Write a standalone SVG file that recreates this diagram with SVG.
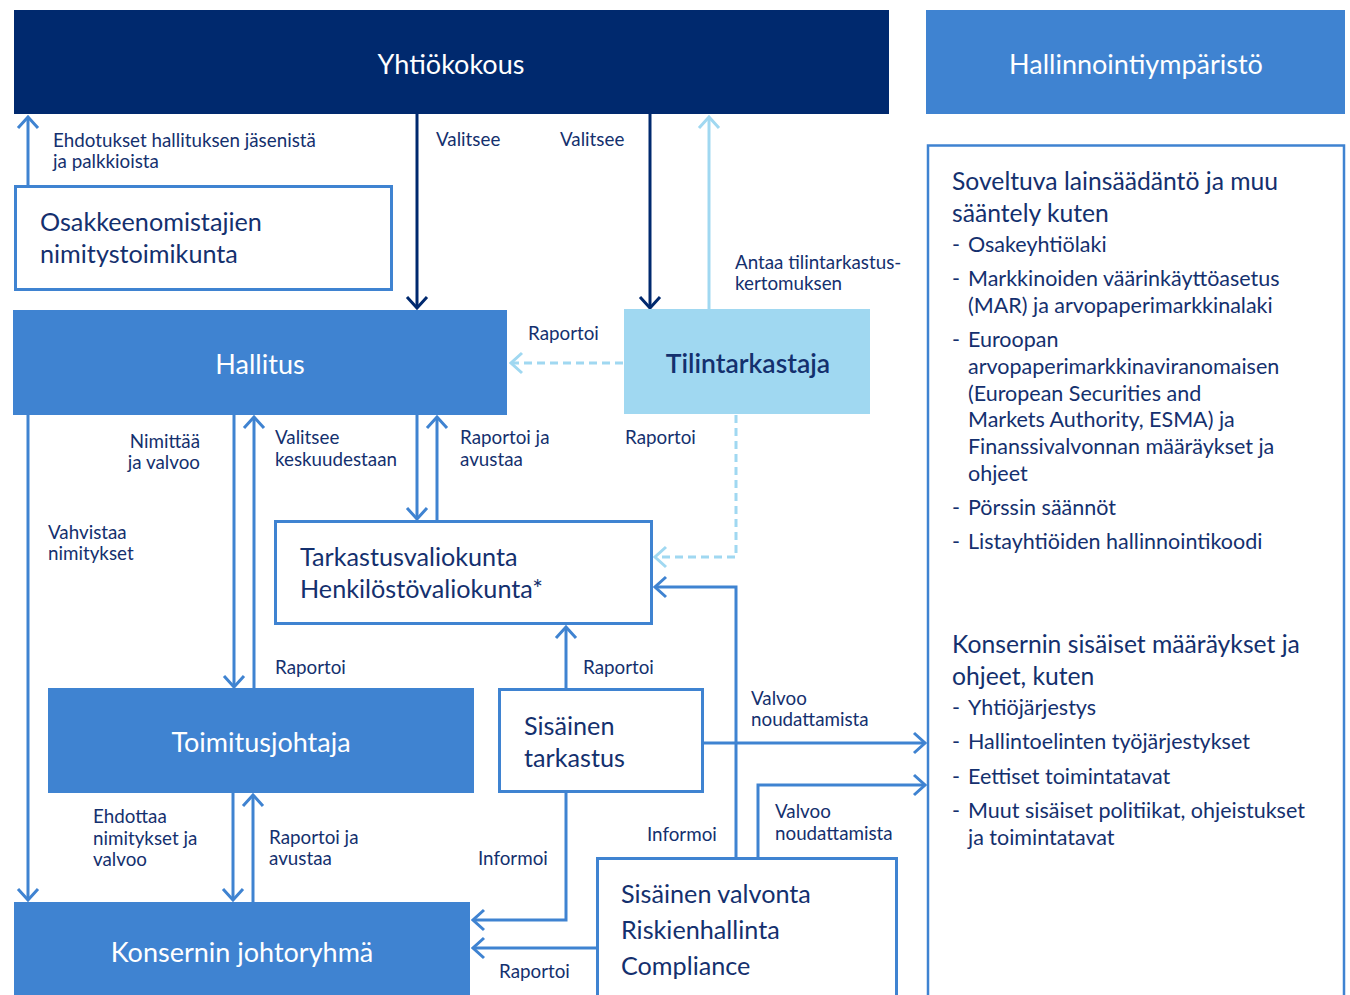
<svg xmlns="http://www.w3.org/2000/svg" width="1350" height="995" viewBox="0 0 1350 995">
<style>
text{font-family:Lato,"Noto Sans","Liberation Sans",sans-serif;fill:#14306e}
.lbl{font-size:18.8px}
.box{font-size:25.2px}
.wt{fill:#ffffff;font-size:27px;text-anchor:middle}
.h{font-size:24.7px}
.li{font-size:21.5px}
.navy{fill:#00296e}
.mid{fill:#3f83d1}
.out{fill:#ffffff;stroke:#3f83d1;stroke-width:3}
.c{fill:none;stroke:#3f83d1;stroke-width:3}
.cn{fill:none;stroke:#00296e;stroke-width:3}
.cl{fill:none;stroke:#a0d8f1;stroke-width:3}
.cd{fill:none;stroke:#a0d8f1;stroke-width:3;stroke-dasharray:8 5}
</style>
<defs>
<marker id="am" viewBox="-2 -2 15 24" refX="11" refY="10" markerWidth="15" markerHeight="24" markerUnits="userSpaceOnUse" orient="auto"><path d="M0,0 L11,10 L0,20" fill="none" stroke="#3f83d1" stroke-width="3"/></marker>
<marker id="an" viewBox="-2 -2 15 24" refX="11" refY="10" markerWidth="15" markerHeight="24" markerUnits="userSpaceOnUse" orient="auto"><path d="M0,0 L11,10 L0,20" fill="none" stroke="#00296e" stroke-width="3"/></marker>
<marker id="al" viewBox="-2 -2 15 24" refX="11" refY="10" markerWidth="15" markerHeight="24" markerUnits="userSpaceOnUse" orient="auto"><path d="M0,0 L11,10 L0,20" fill="none" stroke="#a0d8f1" stroke-width="3"/></marker>
</defs>

<g id="connectors">
<line class="c" x1="28" y1="186" x2="28" y2="117" marker-end="url(#am)"/>
<line class="cn" x1="417" y1="114" x2="417" y2="308" marker-end="url(#an)"/>
<line class="cn" x1="650" y1="114" x2="650" y2="308" marker-end="url(#an)"/>
<line class="cl" x1="709" y1="309" x2="709" y2="117" marker-end="url(#al)"/>
<line class="cd" x1="623" y1="363" x2="511" y2="363" marker-end="url(#al)"/>
<polyline class="cd" points="736,415 736,557 655,557" marker-end="url(#al)"/>
<line class="c" x1="417" y1="415" x2="417" y2="519" marker-end="url(#am)"/>
<line class="c" x1="437" y1="521" x2="437" y2="417" marker-end="url(#am)"/>
<line class="c" x1="234" y1="415" x2="234" y2="687" marker-end="url(#am)"/>
<line class="c" x1="254" y1="688" x2="254" y2="417" marker-end="url(#am)"/>
<line class="c" x1="28" y1="415" x2="28" y2="900" marker-end="url(#am)"/>
<line class="c" x1="233" y1="793" x2="233" y2="900" marker-end="url(#am)"/>
<line class="c" x1="253" y1="902" x2="253" y2="795" marker-end="url(#am)"/>
<line class="c" x1="566" y1="689" x2="566" y2="627" marker-end="url(#am)"/>
<line class="c" x1="703" y1="743" x2="925" y2="743" marker-end="url(#am)"/>
<polyline class="c" points="566,792 566,920 473,920" marker-end="url(#am)"/>
<polyline class="c" points="736,858 736,587 655,587" marker-end="url(#am)"/>
<polyline class="c" points="758,858 758,785 925,785" marker-end="url(#am)"/>
<line class="c" x1="597" y1="948" x2="473" y2="948" marker-end="url(#am)"/>
</g>

<g id="labels">
<text class="lbl" x="53" y="147">Ehdotukset hallituksen jäsenistä</text>
<text class="lbl" x="53" y="168">ja palkkioista</text>
<text class="lbl" x="436" y="146">Valitsee</text>
<text class="lbl" x="560" y="146">Valitsee</text>
<text class="lbl" x="735" y="269">Antaa tilintarkastus-</text>
<text class="lbl" x="735" y="290">kertomuksen</text>
<text class="lbl" x="528" y="340">Raportoi</text>
<text class="lbl" x="200" y="448" text-anchor="end">Nimittää</text>
<text class="lbl" x="200" y="469" text-anchor="end">ja valvoo</text>
<text class="lbl" x="275" y="444">Valitsee</text>
<text class="lbl" x="275" y="466">keskuudestaan</text>
<text class="lbl" x="460" y="444">Raportoi ja</text>
<text class="lbl" x="460" y="466">avustaa</text>
<text class="lbl" x="625" y="444">Raportoi</text>
<text class="lbl" x="48" y="539">Vahvistaa</text>
<text class="lbl" x="48" y="560">nimitykset</text>
<text class="lbl" x="275" y="674">Raportoi</text>
<text class="lbl" x="583" y="674">Raportoi</text>
<text class="lbl" x="751" y="705">Valvoo</text>
<text class="lbl" x="751" y="726">noudattamista</text>
<text class="lbl" x="93" y="823">Ehdottaa</text>
<text class="lbl" x="93" y="845">nimitykset ja</text>
<text class="lbl" x="93" y="866">valvoo</text>
<text class="lbl" x="269" y="844">Raportoi ja</text>
<text class="lbl" x="269" y="865">avustaa</text>
<text class="lbl" x="478" y="865">Informoi</text>
<text class="lbl" x="647" y="841">Informoi</text>
<text class="lbl" x="775" y="818">Valvoo</text>
<text class="lbl" x="775" y="840">noudattamista</text>
<text class="lbl" x="499" y="978">Raportoi</text>
</g>

<g id="yhtiokokous">
<rect class="navy" x="14" y="10" width="875" height="104"/>
<text class="wt" x="451" y="74">Yhtiökokous</text>
</g>

<g id="hallinnointiymparisto">
<rect class="mid" x="926" y="10" width="419" height="104"/>
<text class="wt" x="1136" y="74">Hallinnointiympäristö</text>
</g>

<g id="osakkeenomistajien">
<rect class="out" x="15.5" y="186.5" width="376" height="103"/>
<text class="box" x="40" y="231">Osakkeenomistajien</text>
<text class="box" x="40" y="263">nimitystoimikunta</text>
</g>

<g id="hallitus">
<rect class="mid" x="13" y="310" width="494" height="105"/>
<text class="wt" x="260" y="374">Hallitus</text>
</g>

<g id="tilintarkastaja">
<rect fill="#a0d8f1" x="624" y="309" width="246" height="105"/>
<text x="748" y="373" font-size="26.5" font-weight="600" text-anchor="middle">Tilintarkastaja</text>
</g>

<g id="valiokunnat">
<rect class="out" x="275.5" y="521.5" width="376" height="102"/>
<text class="box" x="300" y="566">Tarkastusvaliokunta</text>
<text class="box" x="300" y="598">Henkilöstövaliokunta*</text>
</g>

<g id="toimitusjohtaja">
<rect class="mid" x="48" y="688" width="426" height="105"/>
<text class="wt" x="261" y="752">Toimitusjohtaja</text>
</g>

<g id="sisainen-tarkastus">
<rect class="out" x="499.5" y="689.5" width="203" height="102"/>
<text class="box" x="524" y="735">Sisäinen</text>
<text class="box" x="524" y="767">tarkastus</text>
</g>

<g id="sisainen-valvonta">
<rect class="out" x="597.5" y="858.5" width="299" height="150"/>
<text class="box" x="621" y="903">Sisäinen valvonta</text>
<text class="box" x="621" y="939">Riskienhallinta</text>
<text class="box" x="621" y="975">Compliance</text>
</g>

<g id="konsernin-johtoryhma">
<rect class="mid" x="14" y="902" width="456" height="100"/>
<text class="wt" x="242" y="962">Konsernin johtoryhmä</text>
</g>

<g id="ymparisto-paneeli">
<rect fill="none" stroke="#3f83d1" stroke-width="2.5" x="928" y="145.5" width="416" height="870"/>
<text class="h" x="952" y="190">Soveltuva lainsäädäntö ja muu</text>
<text class="h" x="952" y="222">sääntely kuten</text>
<text class="li" x="952" y="252">-</text><text class="li" x="968" y="252">Osakeyhtiölaki</text>
<text class="li" x="952" y="286">-</text><text class="li" x="968" y="286">Markkinoiden väärinkäyttöasetus</text>
<text class="li" x="968" y="313">(MAR) ja arvopaperimarkkinalaki</text>
<text class="li" x="952" y="347">-</text><text class="li" x="968" y="347">Euroopan</text>
<text class="li" x="968" y="374">arvopaperimarkkinaviranomaisen</text>
<text class="li" x="968" y="401">(European Securities and</text>
<text class="li" x="968" y="427">Markets Authority, ESMA) ja</text>
<text class="li" x="968" y="454">Finanssivalvonnan määräykset ja</text>
<text class="li" x="968" y="481">ohjeet</text>
<text class="li" x="952" y="515">-</text><text class="li" x="968" y="515">Pörssin säännöt</text>
<text class="li" x="952" y="549">-</text><text class="li" x="968" y="549">Listayhtiöiden hallinnointikoodi</text>
<text class="h" x="952" y="653">Konsernin sisäiset määräykset ja</text>
<text class="h" x="952" y="685">ohjeet, kuten</text>
<text class="li" x="952" y="715">-</text><text class="li" x="968" y="715">Yhtiöjärjestys</text>
<text class="li" x="952" y="749">-</text><text class="li" x="968" y="749">Hallintoelinten työjärjestykset</text>
<text class="li" x="952" y="784">-</text><text class="li" x="968" y="784">Eettiset toimintatavat</text>
<text class="li" x="952" y="818">-</text><text class="li" x="968" y="818">Muut sisäiset politiikat, ohjeistukset</text>
<text class="li" x="968" y="845">ja toimintatavat</text>
</g>
</svg>
